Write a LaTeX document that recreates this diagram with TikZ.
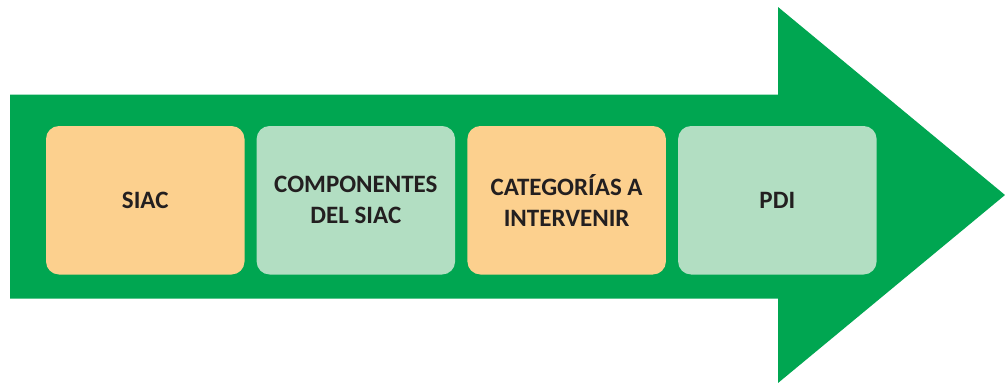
\documentclass[tikz,border=0pt]{standalone}
\usepackage{fontspec}
\setmainfont{Carlito}
\definecolor{arrowgreen}{RGB}{0,166,81}
\definecolor{boxorange}{RGB}{252,208,142}
\definecolor{boxgreen}{RGB}{178,222,194}
\definecolor{textdark}{RGB}{35,31,32}
\tikzset{
  stagebox/.style={rounded corners=13pt, inner sep=0pt, minimum width=198.5pt, minimum height=148.5pt,
    align=center, text=textdark, font=\fontsize{25}{31}\selectfont\bfseries},
  orangebox/.style={stagebox, fill=boxorange},
  greenbox/.style={stagebox, fill=boxgreen},
}
\begin{document}
\begin{tikzpicture}[x=1pt,y=-1pt]
\useasboundingbox (0,0) rectangle (1005,383);
\fill[arrowgreen] (10,94.5) -- (778,94.5) -- (778,7) -- (1005,195) -- (778,383) -- (778,298.5) -- (10,298.5) -- cycle;
\node[orangebox] (siac) at (145.25,200.25) {SIAC};
\node[greenbox] (comp) at (355.85,200.25) {COMPONENTES\\DEL SIAC};
\node[orangebox] (cat) at (566.65,200.25) {CATEGORÍAS A\\INTERVENIR};
\node[greenbox] (pdi) at (777.35,200.25) {PDI};
\end{tikzpicture}
\end{document}
